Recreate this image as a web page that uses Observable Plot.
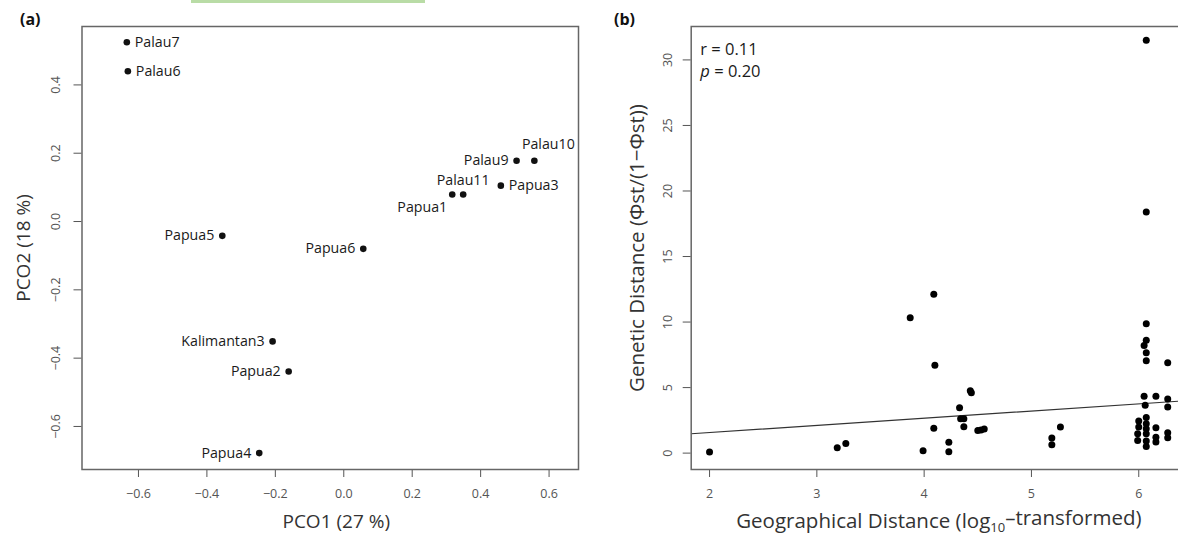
<!DOCTYPE html>
<html><head><meta charset="utf-8">
<script src="https://cdn.jsdelivr.net/npm/d3@7"></script>
<script src="https://cdn.jsdelivr.net/npm/@observablehq/plot@0.6"></script>
<style>
html,body{margin:0;padding:0;background:#fff;overflow:hidden;width:1178px;height:542px}
#wrap{position:relative;width:1178px;height:542px;overflow:hidden;font-family:"Open Sans",sans-serif}
.panel{position:absolute;top:0}
.panel svg{max-width:none !important;height:542px !important}
.tag{position:absolute;font-weight:bold;font-size:16px;color:#111;line-height:20px}
#green{position:absolute;left:191px;top:0;width:234px;height:3px;background:#b9dca6}
</style></head><body>
<div id="wrap">
  <div id="green"></div>
  <div class="tag" style="left:20px;top:9px">(a)</div>
  <div class="tag" style="left:614px;top:9px">(b)</div>
  <div id="pa" class="panel" style="left:0;width:600px"></div>
  <div id="pb" class="panel" style="left:590px;width:620px"></div>
</div>
<script>
// ---------- Panel (a): PCO ordination ----------
const sites    = ["Palau7","Palau6","Palau10","Palau9","Papua3","Palau11","Papua1","Papua5","Papua6","Kalimantan3","Papua2","Papua4"];
const pco1     = [-0.634,-0.631, 0.557, 0.505, 0.459, 0.349, 0.317,-0.355, 0.057,-0.208,-0.161,-0.247];
const pco2     = [ 0.525, 0.440, 0.178, 0.178, 0.105, 0.079, 0.079,-0.042,-0.080,-0.351,-0.439,-0.678];
const labelPos = ["right","right","above-right","left","right","above","below-left","left","left","left","left","left"];
const ticksAx  = [-0.6,-0.4,-0.2,0.0,0.2,0.4,0.6];
const ticksAy  = [-0.6,-0.4,-0.2,0.0,0.2,0.4];
const titleAx  = "PCO1 (27 %)";
const titleAy  = "PCO2 (18 %)";

// ---------- Panel (b): isolation by distance ----------
const geoDist = [2.00,3.19,3.27,3.87,4.09,4.10,3.99,4.09,4.23,4.23,4.33,4.34,4.37,4.37,4.43,4.44,4.50,4.53,4.56,5.19,5.19,5.27,
                 6.07,6.07,6.07,6.07,6.05,6.07,6.07,6.27,6.05,6.16,6.27,6.27,6.06,6.00,6.07,6.07,6.00,6.07,5.99,6.07,5.99,6.07,6.07,6.16,6.16,6.16,6.27,6.27];
const genDist = [0.08,0.41,0.74,10.33,12.12,6.71,0.18,1.89,0.82,0.11,3.47,2.63,2.63,2.02,4.75,4.60,1.72,1.76,1.84,1.15,0.64,1.99,
                 31.5,18.39,9.87,8.62,8.22,7.65,7.04,6.89,4.34,4.34,4.13,3.52,3.65,2.45,2.71,2.25,1.99,1.86,1.48,1.48,0.97,0.92,0.51,1.94,1.22,0.84,1.56,1.18];
const fitIntercept = 0.476;
const fitSlope     = 0.547;
const statR        = "r = 0.11";
const statPsym     = "p";
const statPval     = "= 0.20";
const ticksBx = [2,3,4,5,6];
const ticksBy = [0,5,10,15,20,25,30];
const titleBx = "Geographical Distance (log10–transformed)";
const titleBy = "Genetic Distance (Φst/(1−Φst))";

const FONT = '"Open Sans", sans-serif';
const TICKCOL = "#555", TITLECOL = "#333", FRAMECOL = "#666";
const SVGSTYLE = {fontFamily: FONT, background: "transparent", overflow: "visible", maxWidth: "none"};

// ---- build panel (a)
const tableA = sites.map((s, i) => ({site: s, x: pco1[i], y: pco2[i], pos: labelPos[i]}));
const posStyle = {
  "right":       {textAnchor: "start",  dx: 8,   dy: 0},
  "left":        {textAnchor: "end",    dx: -8,  dy: 0},
  "above":       {textAnchor: "middle", dx: 0,   dy: -14},
  "above-right": {textAnchor: "middle", dx: 14,  dy: -16},
  "below-left":  {textAnchor: "middle", dx: -30, dy: 13}
};
const fmt1 = d3.format(".1f");
const labelMarks = Object.entries(posStyle).map(([k, st]) =>
  Plot.text(tableA.filter(d => d.pos === k), {x: "x", y: "y", text: "site", fontSize: 14.2, fill: "#1a1a1a", ...st})
);

const A = Plot.plot({
  width: 600, height: 542,
  marginLeft: 81.5, marginRight: 22, marginTop: 26, marginBottom: 73,
  x: {domain: [-0.765, 0.686], axis: null},
  y: {domain: [-0.726, 0.571], axis: null},
  style: SVGSTYLE,
  marks: [
    Plot.axisX({ticks: ticksAx, tickSize: 8, tickPadding: 12, tickFormat: fmt1, fontSize: 12.5, color: TICKCOL, label: null}),
    Plot.axisY({ticks: ticksAy, tickSize: 8, tickFormat: () => "", color: TICKCOL, label: null}),
    Plot.text(ticksAy, {y: d => d, text: d => fmt1(d), frameAnchor: "left", textAnchor: "middle", rotate: -90, dx: -26, fontSize: 12.5, fill: TICKCOL}),
    Plot.frame({stroke: FRAMECOL, strokeWidth: 1.5}),
    Plot.dot(tableA, {x: "x", y: "y", r: 3.3, fill: "#111", stroke: null}),
    ...labelMarks,
    Plot.text([titleAx], {frameAnchor: "bottom", dy: 58, dx: 6, fontSize: 19, fill: TITLECOL}),
    Plot.text([titleAy], {frameAnchor: "left", textAnchor: "middle", rotate: -90, dx: -58, fontSize: 19, fill: TITLECOL})
  ]
});
document.getElementById("pa").appendChild(A);

// ---- build panel (b)
const tableB = geoDist.map((g, i) => ({x: g, y: genDist[i]}));
const xDomB = [1.829, 6.445];
const fitLine = xDomB.map(x => ({x, y: fitIntercept + fitSlope * x}));

const B = Plot.plot({
  width: 620, height: 542,
  marginLeft: 100.7, marginRight: 24, marginTop: 26, marginBottom: 73,
  x: {domain: xDomB, axis: null},
  y: {domain: [-1.25, 32.55], axis: null},
  style: SVGSTYLE,
  marks: [
    Plot.axisX({ticks: ticksBx, tickSize: 8, tickPadding: 12, tickFormat: d3.format("d"), fontSize: 12.5, color: TICKCOL, label: null}),
    Plot.axisY({ticks: ticksBy, tickSize: 8, tickFormat: () => "", color: TICKCOL, label: null}),
    Plot.text(ticksBy, {y: d => d, text: d => String(d), frameAnchor: "left", textAnchor: "middle", rotate: -90, dx: -23, fontSize: 12.5, fill: TICKCOL}),
    Plot.line(fitLine, {x: "x", y: "y", stroke: "#333", strokeWidth: 1.2, clip: true}),
    Plot.frame({stroke: FRAMECOL, strokeWidth: 1.5}),
    Plot.dot(tableB, {x: "x", y: "y", r: 3.5, fill: "#000", stroke: null}),
    Plot.text([statR], {frameAnchor: "top-left", textAnchor: "start", dx: 9, dy: 17, fontSize: 16.5, fill: "#1a1a1a"}),
    Plot.text([statPsym], {frameAnchor: "top-left", textAnchor: "start", dx: 9, dy: 39, fontSize: 16.5, fontStyle: "italic", fill: "#1a1a1a"}),
    Plot.text([statPval], {frameAnchor: "top-left", textAnchor: "start", dx: 23, dy: 39, fontSize: 16.5, fill: "#1a1a1a"}),
    Plot.text([titleBx], {frameAnchor: "bottom", dy: 58, fontSize: 20.5, fill: TITLECOL, className: "xtitleB"}),
    Plot.text([titleBy], {frameAnchor: "left", textAnchor: "middle", rotate: -90, dx: -54, fontSize: 20.5, fill: TITLECOL})
  ]
});
document.getElementById("pb").appendChild(B);

// rich text: subscript "10" in the x title
const NS = "http://www.w3.org/2000/svg";
function tspan(parent, txt, attrs) {
  const t = document.createElementNS(NS, "tspan");
  t.textContent = txt;
  for (const k in attrs) t.setAttribute(k, attrs[k]);
  parent.appendChild(t);
  return t;
}
const xt = B.querySelector(".xtitleB text");
if (xt) {
  const parts = titleBx.split("10");
  xt.textContent = "";
  tspan(xt, parts[0], {});
  tspan(xt, "10", {"font-size": "13", dy: "0.35em"});
  tspan(xt, parts[1], {dy: "-0.35em"});
}
</script>
</body></html>
